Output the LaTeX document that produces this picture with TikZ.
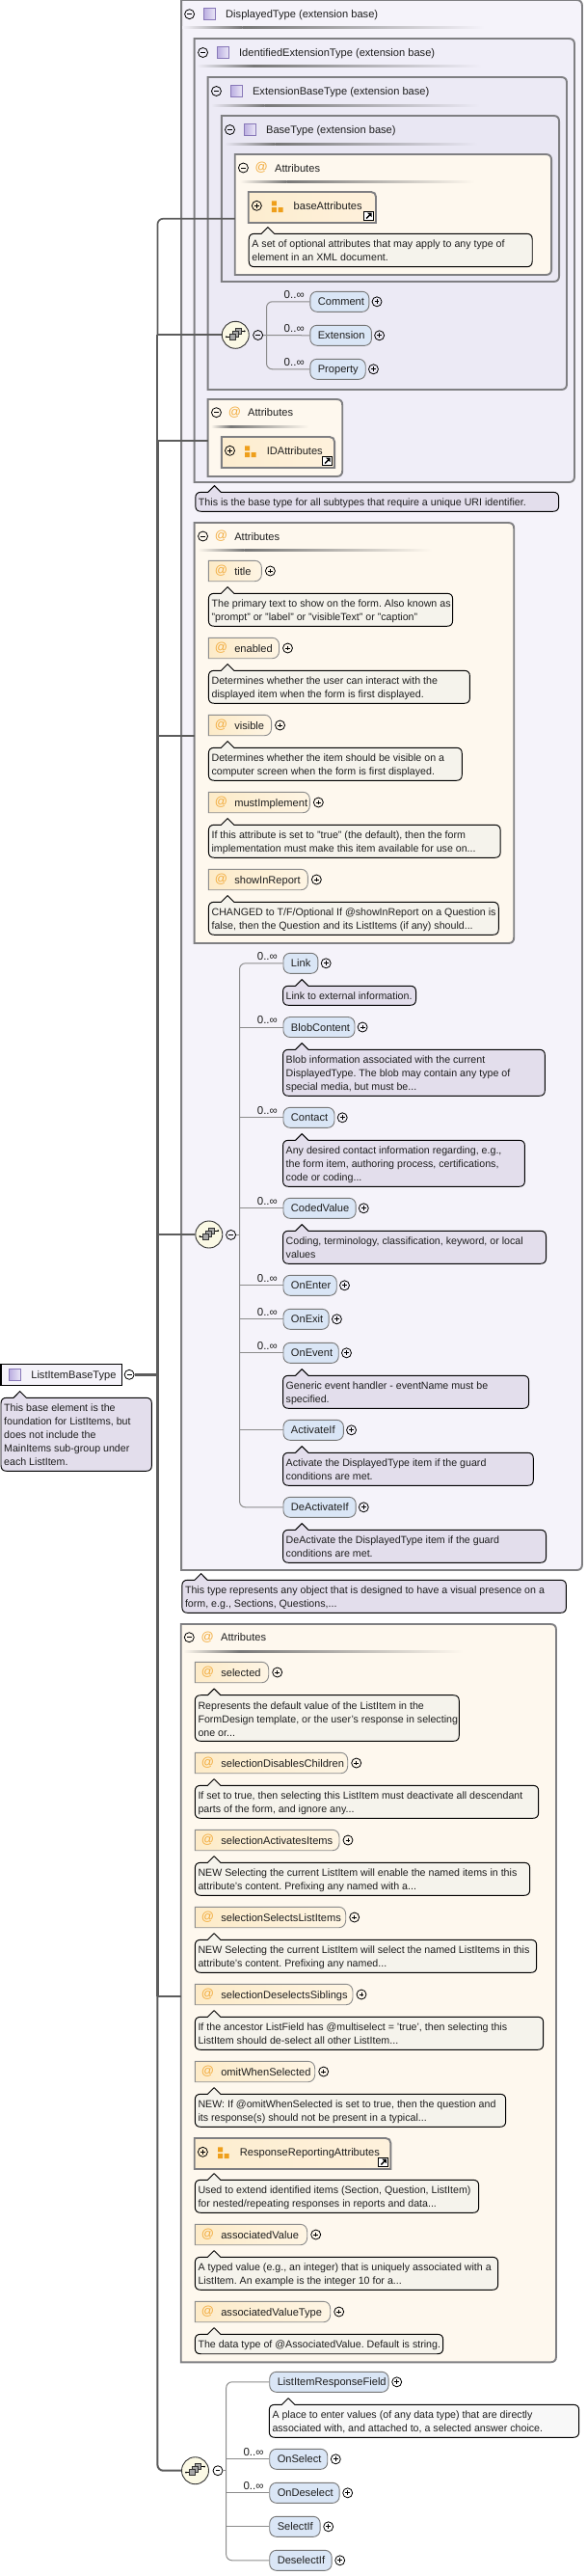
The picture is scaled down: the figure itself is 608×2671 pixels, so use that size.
\documentclass[tikz,border=0pt]{standalone}
\usepackage{fontspec}
\setmainfont{Liberation Sans}
\frenchspacing
\definecolor{txt}{HTML}{1E1E1E}
\definecolor{bordergray}{HTML}{7F7F82}
\definecolor{conngray}{HTML}{5C5C5C}
\definecolor{combgray}{HTML}{8C8C8C}
\definecolor{bgA}{HTML}{F5F3FA}
\definecolor{bgB}{HTML}{F0EEF8}
\definecolor{bgC}{HTML}{ECEAF5}
\definecolor{bgD}{HTML}{E9E7F3}
\definecolor{bgAttr}{HTML}{FEF8EE}
\definecolor{tipPurple}{HTML}{E3DEEC}
\definecolor{tipCream}{HTML}{F5F3EC}
\definecolor{tipWhite}{HTML}{F8F8F8}
\definecolor{pillBlue}{HTML}{DAE6F6}
\definecolor{orangeIcon}{HTML}{EE9F1C}
\definecolor{atText}{HTML}{F2AC3E}
\definecolor{attrL}{HTML}{FDEBC8}
\definecolor{attrR}{HTML}{FEF5E4}
\definecolor{grpL}{HTML}{FDEDCF}
\definecolor{grpR}{HTML}{FEF1DC}
\definecolor{typeL}{HTML}{B9ACE0}
\definecolor{typeR}{HTML}{EDEAF8}
\definecolor{typeB}{HTML}{8878B8}
\definecolor{choiceFill}{HTML}{FBF9E5}
\definecolor{sepDark}{HTML}{777777}
\tikzset{
  every node/.style={text=txt},
  lbl/.style={font=\fontsize{11.1}{14}\selectfont,inner sep=0pt,text height=10pt,text depth=2pt},
  tiptext/.style={font=\fontsize{10.65}{14}\selectfont,inner sep=0pt,align=left,anchor=north west},
  occ/.style={font=\fontsize{11.5}{14}\selectfont,inner sep=0pt,anchor=west,text=txt},
  sign/.style={circle,draw=black,line width=0.8pt,minimum size=10pt,inner sep=0pt},
  pillbox/.style={draw=combgray!85!black,line width=0.9pt,fill=pillBlue,rounded corners=7pt,inner sep=0pt,minimum height=21pt,anchor=west},
  chnode/.style={circle,draw=black!80,line width=0.9pt,fill=choiceFill,minimum size=28pt,inner sep=0pt},
  conn/.style={draw=conngray,line cap=butt},
  comb/.style={draw=combgray,line width=1pt},
}
% sign nodes
\newcommand{\minusnode}[3]{\node[sign] (#1) at (#2,#3) {};\draw[line width=0.8pt,shift={(#2,#3)}] (-2.4,0) -- (2.4,0);}
\newcommand{\plusnode}[3]{\node[sign] (#1) at (#2,#3) {};\draw[line width=0.8pt,shift={(#2,#3)}] (-2.4,0) -- (2.4,0) (0,-2.4) -- (0,2.4);}
% rounded-right frame
\newcommand{\boxR}[6]{%
  \path[draw=bordergray,line width=1.9pt,fill=#6,line join=miter]
   (#2,#3) -- ({#4-6},#3) .. controls ({#4-2},#3) and (#4,{#3+2}) .. (#4,{#3+6})
   -- (#4,{#5-6}) .. controls (#4,{#5-2}) and ({#4-2},#5) .. ({#4-6},#5) -- (#2,#5) -- cycle;
  \coordinate (#1) at (#2,#3);}
% separator
\newcommand{\sepline}[4]{%
  \shade[left color=#4,right color=sepDark] (#1,{#3-1}) rectangle ({#1+0.2*(#2-#1)},{#3+1});
  \shade[right color=#4,left color=sepDark] ({#1+0.2*(#2-#1)},{#3-1}) rectangle (#2,{#3+1});}
% type icon
\newcommand{\typeicon}[2]{\shadedraw[draw=typeB,line width=0.9pt,left color=typeL,right color=typeR] (#1,{#2-6.2}) rectangle ({#1+12.8},{#2+6.2});}
% headers
\newcommand{\hdrT}[4]{% name, minus x, y, text
  \minusnode{#1-m}{#2}{#3}\typeicon{#2+14.6}{#3}
  \node[lbl,anchor=west] (#1-t) at ({#2+37.6},#3) {#4};}
\newcommand{\atnode}[3]{\node[font=\fontsize{13}{14}\selectfont,text=atText,inner sep=0pt] (#1) at (#2,#3) {@};}
\newcommand{\hdrA}[4]{%
  \minusnode{#1-m}{#2}{#3}\atnode{#1-a}{#2+19}{#3}
  \node[lbl,anchor=west] (#1-t) at ({#2+32.7},#3) {#4};}
% tooltip: name,x1,y1,x2,y2,fill,text
\newcommand{\tip}[7]{%
  \path[draw=black,line width=0.95pt,fill=#6,line join=round]
   ({#2+6},#3) -- ({#2+13.1},#3) -- ({#2+19.8},{#3-6.7}) -- ({#2+26.5},#3) -- ({#4-6},#3)
   .. controls ({#4-2},#3) and (#4,{#3+2}) .. (#4,{#3+6}) -- (#4,{#5-6})
   .. controls (#4,{#5-2}) and ({#4-2},#5) .. ({#4-6},#5) -- ({#2+6},#5)
   .. controls ({#2+2},#5) and (#2,{#5-2}) .. (#2,{#5-6}) -- (#2,{#3+6})
   .. controls (#2,{#3+2}) and ({#2+2},#3) .. ({#2+6},#3) -- cycle;
  \node[tiptext] (#1) at ({#2+3},{#3+4.3}) {\rule{0pt}{10pt}#7};}
% element pill: name,x1,x2,y,text
\newcommand{\elem}[5]{%
  \pgfmathsetmacro{\elw}{#3-#2}
  \node[pillbox,lbl,minimum height=21pt,draw=combgray!85!black,inner sep=0pt] (#1) at (#2,#4) {\makebox[\elw pt][l]{\hspace*{8pt}#5}};
  \plusnode{#1-p}{#3+9}{#4}}
% attribute pill
\newcommand{\attr}[5]{%
  \shadedraw[draw=combgray,line width=0.9pt,left color=attrL,right color=attrR]
   (#2,{#4-10.7}) -- ({#3-7},{#4-10.7}) .. controls ({#3-2.5},{#4-10.7}) and (#3,{#4-7}) .. (#3,{#4-3})
   -- (#3,{#4+3}) .. controls (#3,{#4+7}) and ({#3-2.5},{#4+10.7}) .. ({#3-7},{#4+10.7}) -- (#2,{#4+10.7}) -- cycle;
  \atnode{#1-a}{#2+13.2}{#4}
  \node[lbl,anchor=west] (#1) at ({#2+26.8},#4) {#5};
  \plusnode{#1-p}{#3+9}{#4}}
% attribute group: name,x1,y1,x2,y2,text
\newcommand{\grp}[6]{%
  \shadedraw[draw=bordergray,line width=1.9pt,left color=grpL,right color=grpR]
   (#2,#3) -- ({#4-5},#3) .. controls ({#4-2},#3) and (#4,{#3+2}) .. (#4,{#3+5}) -- (#4,#5) -- (#2,#5) -- cycle;
  \plusnode{#1-p}{#2+8.7}{#3+14.3}
  \fill[orangeIcon] ({#2+24.3},{#3+9.3}) rectangle ({#2+29.4},{#3+14.3})
    ({#2+24.3},{#3+16}) rectangle ({#2+29.4},{#3+21})
    ({#2+31},{#3+16}) rectangle ({#2+36},{#3+21});
  \node[lbl,anchor=west] (#1) at ({#2+47},{#3+14}) {#6};
  \draw[black,fill=white,line width=1pt] ({#4-12.5},{#5-12}) rectangle ({#4-2.5},{#5-2.3});
  \draw[black,line width=1.5pt] ({#4-10},{#5-4.5}) -- ({#4-6},{#5-8.5});
  \fill[black] ({#4-9},{#5-10.3}) -- ({#4-4.5},{#5-10.3}) -- ({#4-4.5},{#5-5.8}) -- cycle;}
% choice node: name,x,y
\newcommand{\choice}[3]{%
  \node[chnode] (#1) at (#2,#3) {};
  \begin{scope}[shift={(#2,#3)}]
   \draw[black,line width=0.9pt] (-9.5,2) -- (-3,2) (3,-4) -- (9.5,-4);
   \fill[black] (-9.5,2) circle[radius=1] (9.5,-4) circle[radius=1];
   \draw[black!80,fill=gray!70,line width=0.7pt] (0,-7) rectangle (6,-1);
   \draw[black!80,fill=gray!70,line width=0.7pt] (-3,-4) rectangle (3,2);
   \draw[black!80,fill=gray!70,line width=0.7pt] (-6,-1) rectangle (0,5);
  \end{scope}}
\newcommand{\occlabel}[3]{\node[occ] (#1) at (#2,#3) {0..∞};}
\begin{document}
\begin{tikzpicture}[x=1pt,y=-1pt]
\useasboundingbox (0,0) rectangle (608,2671);
\fill[white] (0,0) rectangle (608,2671);

\begin{scope}[x=0.995pt]
% ----- nested frames
\boxR{dt}{189}{0}{607}{1628}{bgA}
\hdrT{dt}{197.6}{14.7}{DisplayedType (extension base)}
\sepline{190}{505}{29}{bgA}
\boxR{ie}{202.6}{40}{599}{500}{bgB}
\hdrT{ie}{211.6}{54.5}{IdentifiedExtensionType (extension base)}
\sepline{205}{502}{69}{bgB}
\boxR{eb}{216.7}{80}{591}{404}{bgC}
\hdrT{eb}{225.6}{94.5}{ExtensionBaseType (extension base)}
\sepline{220}{500}{109}{bgC}
\boxR{bt}{231}{120}{583}{292}{bgD}
\hdrT{bt}{239.7}{134.5}{BaseType (extension base)}
\sepline{234}{498}{149}{bgD}
\boxR{at1}{245}{160}{575}{285}{bgAttr}
\hdrA{at1}{253.7}{174}{Attributes}
\sepline{250}{495}{188}{bgAttr}
\grp{baseAttributes}{259}{199}{392}{231}{baseAttributes}
\tip{t-base}{259.5}{242.3}{555}{276.7}{tipCream}{A set of optional attributes that may apply to any type of\\element in an XML document.}

% first choice
\choice{ch1}{245.5}{347.3}
\minusnode{ch1-m}{269}{347.5}
\elem{Comment}{323}{384}{312.8}{Comment}
\elem{Extension}{323}{386.6}{347.8}{Extension}
\elem{Property}{323}{380.4}{382.8}{Property}
\occlabel{o1}{296}{305.7}\occlabel{o2}{296}{340.7}\occlabel{o3}{296}{375.7}
\coordinate (tk1) at (277.9,347.8);

% ID attributes
\boxR{at2}{216.7}{414}{357}{494}{bgAttr}
\hdrA{at2}{225.6}{427.7}{Attributes}
\sepline{220}{322}{442}{bgAttr}
\grp{IDAttributes}{231}{453}{348.8}{485}{IDAttributes}
\tip{t-id}{203.8}{510.3}{582.6}{530.3}{tipPurple}{This is the base type for all subtypes that require a unique URI identifier.}

% large attributes
\boxR{at3}{202.6}{542}{535.9}{978}{bgAttr}
\hdrA{at3}{211.6}{556}{Attributes}
\sepline{206}{450}{570}{bgAttr}
\attr{title}{217.5}{272.8}{592}{title}
\tip{t-title}{217.5}{615.3}{472}{649.3}{tipCream}{The primary text to show on the form. Also known as\\"prompt" or "label" or "visibleText" or "caption"}
\attr{enabled}{217.5}{291}{672}{enabled}
\tip{t-enabled}{217.5}{695.3}{489.9}{729.3}{tipCream}{Determines whether the user can interact with the\\displayed item when the form is first displayed.}
\attr{visible}{217.5}{283}{752}{visible}
\tip{t-visible}{217.5}{775.3}{481.7}{809.3}{tipCream}{Determines whether the item should be visible on a\\computer screen when the form is first displayed.}
\attr{mustImplement}{217.5}{323}{832}{mustImplement}
\tip{t-must}{217.5}{855.3}{521.8}{889.3}{tipCream}{If this attribute is set to "true" (the default), then the form\\implementation must make this item available for use on...}
\attr{showInReport}{217.5}{321}{912}{showInReport}
\tip{t-show}{217.5}{935.3}{519.9}{969.3}{tipCream}{CHANGED to T/F/Optional If @showInReport on a Question is\\false, then the Question and its ListItems (if any) should...}

% large choice
\choice{ch2}{217.9}{1280}
\minusnode{ch2-m}{240.8}{1280.4}
\coordinate (tk2) at (249.8,1280.4);
\elem{Link}{295}{330.9}{998.8}{Link}
\occlabel{o4}{268}{991.3}
\tip{t-link}{295}{1022.3}{433.7}{1042.3}{tipPurple}{Link to external information.}
\elem{BlobContent}{295}{369}{1065}{BlobContent}
\occlabel{o5}{268}{1057.3}
\tip{t-blob}{295}{1088.3}{568.2}{1136.3}{tipPurple}{Blob information associated with the current\\DisplayedType. The blob may contain any type of\\special media, but must be...}
\elem{Contact}{295}{348}{1158.8}{Contact}
\occlabel{o6}{268}{1151.3}
\tip{t-contact}{295}{1182.3}{547.2}{1230.3}{tipPurple}{Any desired contact information regarding, e.g.,\\the form item, authoring process, certifications,\\code or coding...}
\elem{CodedValue}{295}{370.2}{1252.8}{CodedValue}
\occlabel{o7}{268}{1245.3}
\tip{t-coded}{295}{1276.3}{569.4}{1310.3}{tipPurple}{Coding, terminology, classification, keyword, or local\\values}
\elem{OnEnter}{295}{350.3}{1332.8}{OnEnter}
\occlabel{o8}{268}{1325.3}
\elem{OnExit}{295}{342.2}{1367.8}{OnExit}
\occlabel{o9}{268}{1360.3}
\elem{OnEvent}{295}{352.3}{1402.8}{OnEvent}
\occlabel{o10}{268}{1395.3}
\tip{t-event}{295}{1426.3}{551.4}{1460.3}{tipPurple}{Generic event handler - eventName must be\\specified.}
\elem{ActivateIf}{295}{357.4}{1482.8}{ActivateIf}
\tip{t-activate}{295}{1506.3}{556.1}{1540.3}{tipPurple}{Activate the DisplayedType item if the guard\\conditions are met.}
\elem{DeActivateIf}{295}{370.2}{1562.8}{DeActivateIf}
\tip{t-deactivate}{295}{1586.3}{569.4}{1620.3}{tipPurple}{DeActivate the DisplayedType item if the guard\\conditions are met.}

\tip{t-dt}{189.8}{1638.3}{590.4}{1672.3}{tipPurple}{This type represents any object that is designed to have a visual presence on a\\form, e.g., Sections, Questions,...}

% root
\node[draw=black,line width=1.2pt,fill=bgA,minimum width=125.2pt,minimum height=22pt,anchor=west,inner sep=0pt] (root) at (0.5,1425.3) {};
\typeicon{9.2}{1425.5}
\node[lbl,anchor=west] (root-t) at (32.3,1425.3) {ListItemBaseType};
\minusnode{root-m}{134.8}{1425.3}
\tip{t-root}{1}{1449.3}{158.2}{1525.3}{tipPurple}{This base element is the\\foundation for ListItems, but\\does not include the\\MainItems sub-group under\\each ListItem.}
\end{scope}

% bottom attributes
\boxR{at4}{187.7}{1684}{577}{2449.3}{bgAttr}
\hdrA{at4}{196.3}{1697.7}{Attributes}
\sepline{190}{480}{1712}{bgAttr}
\attr{selected}{202.3}{278.7}{1734}{selected}
\tip{t-selected}{202.3}{1757.7}{476.3}{1805.3}{tipCream}{Represents the default value of the ListItem in the\\FormDesign template, or the user's response in selecting\\one or...}
\attr{selectionDisablesChildren}{202.3}{360.7}{1828}{selectionDisablesChildren}
\tip{t-sdc}{202.3}{1851.3}{558.7}{1885.3}{tipCream}{If set to true, then selecting this ListItem must deactivate all descendant\\parts of the form, and ignore any...}
\attr{selectionActivatesItems}{202.3}{352}{1908}{selectionActivatesItems}
\tip{t-sai}{202.3}{1931.3}{549.7}{1965.3}{tipCream}{NEW Selecting the current ListItem will enable the named items in this\\attribute's content. Prefixing any named with a...}
\attr{selectionSelectsListItems}{202.3}{358.7}{1988}{selectionSelectsListItems}
\tip{t-ssl}{202.3}{2011.3}{556.7}{2045.3}{tipCream}{NEW Selecting the current ListItem will select the named ListItems in this\\attribute's content. Prefixing any named...}
\attr{selectionDeselectsSiblings}{202.3}{366}{2068}{selectionDeselectsSiblings}
\tip{t-sds}{202.3}{2091.3}{563.7}{2125.3}{tipCream}{If the ancestor ListField has @multiselect = 'true', then selecting this\\ListItem should de-select all other ListItem...}
\attr{omitWhenSelected}{202.3}{326.7}{2148}{omitWhenSelected}
\tip{t-omit}{202.3}{2171.3}{524.7}{2205.3}{tipCream}{NEW: If @omitWhenSelected is set to true, then the question and\\its response(s) should not be present in a typical...}
\grp{ResponseReportingAttributes}{201.7}{2217}{405.3}{2249}{ResponseReportingAttributes}
\tip{t-rra}{202.3}{2260.3}{496.7}{2294.3}{tipCream}{Used to extend identified items (Section, Question, ListItem)\\for nested/repeating responses in reports and data...}
\attr{associatedValue}{202.3}{318.7}{2317}{associatedValue}
\tip{t-av}{202.3}{2340.3}{516.7}{2374.3}{tipCream}{A typed value (e.g., an integer) that is uniquely associated with a\\ListItem. An example is the integer 10 for a...}
\attr{associatedValueType}{202.3}{342.7}{2397}{associatedValueType}
\tip{t-avt}{202.3}{2420.3}{459.7}{2440.7}{tipCream}{The data type of @AssociatedValue. Default is string.}

% bottom choice
\choice{ch3}{202.5}{2561.7}
\minusnode{ch3-m}{226}{2561.7}
\coordinate (tk3) at (234.7,2561.7);
\elem{ListItemResponseField}{279.3}{402.7}{2469.8}{ListItemResponseField}
\tip{t-lirf}{279.3}{2493.3}{600.7}{2527.3}{tipWhite}{A place to enter values (of any data type) that are directly\\associated with, and attached to, a selected answer choice.}
\elem{OnSelect}{279.3}{339.3}{2549.8}{OnSelect}
\occlabel{o11}{252.3}{2542.3}
\elem{OnDeselect}{279.3}{351.7}{2584.8}{OnDeselect}
\occlabel{o12}{252.3}{2577.3}
\elem{SelectIf}{279.3}{331.7}{2619.8}{SelectIf}
\elem{DeselectIf}{279.3}{343.7}{2654.8}{DeselectIf}

% ----- combs
\draw[comb,rounded corners=6pt] (Comment.west) -| (tk1) |- (Property.west);
\draw[comb] (ch1-m.east) -- (Extension.west);
\draw[comb,rounded corners=6pt] (Link.west) -| (tk2) |- (DeActivateIf.west);
\draw[comb] (ch2-m.east) -- (tk2);
\foreach \n in {BlobContent,Contact,CodedValue,OnEnter,OnExit,OnEvent,ActivateIf}
  \draw[comb] (\n.west) -- (\n.west -| tk2);
\draw[comb,rounded corners=6pt] (ListItemResponseField.west) -| (tk3) |- (DeselectIf.west);
\draw[comb] (ch3-m.east) -- (tk3);
\foreach \n in {OnSelect,OnDeselect,SelectIf}
  \draw[comb] (\n.west) -- (\n.west -| tk3);

% ----- main connectors
\coordinate (j1) at (243.8,226.7);
\coordinate (j3) at (215.6,457.3);
\coordinate (j4) at (201.6,763.3);
\coordinate (j6) at (187.7,2070);
\coordinate (sp1) at (163.4,226.7);
\coordinate (sp2) at (163.4,347.3);
\coordinate (sp3) at (163.4,457.3);
\coordinate (sp4) at (163.4,1280);
\coordinate (sp5) at (163.4,1425.3);
\coordinate (sp6) at (163.4,2070);
\coordinate (sp7) at (163.4,2561.7);
\draw[conn,line width=1.7pt,rounded corners=6pt] (j1) -- (sp1) -- (sp2);
\draw[conn,line width=2pt] (sp2) -- (sp3);
\draw[conn,line width=2.7pt] (sp3) -- (sp6);
\draw[conn,line width=2pt,rounded corners=6pt] (sp6) -- (sp7) -- (ch3.west);
\draw[conn,line width=2pt] (sp2) -- (ch1.west);
\draw[conn,line width=1.7pt] (sp3) -- (j3);
\draw[conn,line width=1.7pt] (sp3 |- j4) -- (j4);
\draw[conn,line width=2pt] (sp4) -- (ch2.west);
\draw[conn,line width=1.7pt] (sp6) -- (j6);
\draw[conn,line width=2.7pt] (root-m.east) -- (sp5);
\end{tikzpicture}
\end{document}
